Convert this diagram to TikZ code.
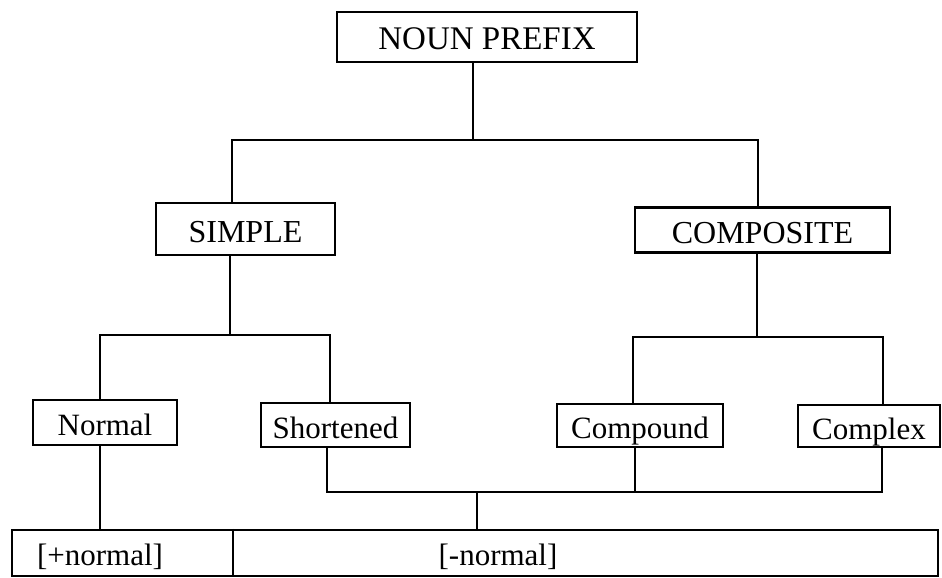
\documentclass[tikz,border=0pt]{standalone}
\usepackage{fontspec}
\setmainfont{Liberation Serif}
\begin{document}
\begin{tikzpicture}[x=1pt,y=-1pt,
  box/.style={draw,line width=2.5pt,inner sep=0pt,text height=27pt,text depth=1pt,font=\fontsize{31}{36}\selectfont},
  lbl/.style={inner sep=0pt,text height=26pt,text depth=2pt,font=\fontsize{31}{36}\selectfont},
  big/.style={font=\fontsize{33}{38}\selectfont},
  mid/.style={font=\fontsize{32}{37}\selectfont},
  conn/.style={line width=2.5pt,line cap=rect}]
\useasboundingbox (0,0) rectangle (942,578);
\node[box,big,minimum width=300pt,minimum height=50pt] (noun) at (487,37) {NOUN PREFIX};
\node[box,mid,minimum width=179pt,minimum height=52pt] (simple) at (245.5,229) {SIMPLE};
\node[box,mid,minimum width=255pt,minimum height=45pt] (comp) at (762.5,230) {COMPOSITE};
\node[box,minimum width=144pt,minimum height=45pt] (normal) at (105,422.5) {Normal};
\node[box,minimum width=149pt,minimum height=44pt] (short) at (335.5,425) {Shortened};
\node[box,minimum width=166pt,minimum height=43pt] (compound) at (640,425.5) {Compound};
\node[box,minimum width=142pt,minimum height=42pt] (complex) at (869,426) {Complex};
\node[box,minimum width=926pt,minimum height=46pt] (bottom) at (475,553) {};
\node[lbl] (plus) at (100,553) {[+normal]};
\node[lbl] (minus) at (498,553) {[-normal]};
% junction coordinates
\coordinate (j1) at (473,140);
\coordinate (jl) at (232,140);
\coordinate (jr) at (758,140);
\coordinate (k1) at (230,335);
\coordinate (kl) at (100,335);
\coordinate (kr) at (330,335);
\coordinate (m1) at (757,337);
\coordinate (ml) at (633,337);
\coordinate (mr) at (883,337);
\coordinate (b1) at (327,492);
\coordinate (b2) at (635,492);
\coordinate (b3) at (882,492);
\coordinate (bc) at (477,492);
\coordinate (dv) at (233,553);
% connectors
\draw[conn] (noun.south -| j1) -- (j1);
\draw[conn] (simple.north -| jl) -- (jl) -- (jr) -- (comp.north -| jr);
\draw[conn] (simple.south -| k1) -- (k1);
\draw[conn] (normal.north -| kl) -- (kl) -- (kr) -- (short.north -| kr);
\draw[conn] (comp.south -| m1) -- (m1);
\draw[conn] (compound.north -| ml) -- (ml) -- (mr) -- (complex.north -| mr);
\draw[conn] (short.south -| b1) -- (b1) -- (b3) -- (complex.south -| b3);
\draw[conn] (compound.south -| b2) -- (b2);
\draw[conn] (bc) -- (bottom.north -| bc);
\draw[conn] (normal.south -| kl) -- (bottom.north -| kl);
\draw[line width=2.5pt] (bottom.north -| dv) -- (bottom.south -| dv);
\end{tikzpicture}
\end{document}
